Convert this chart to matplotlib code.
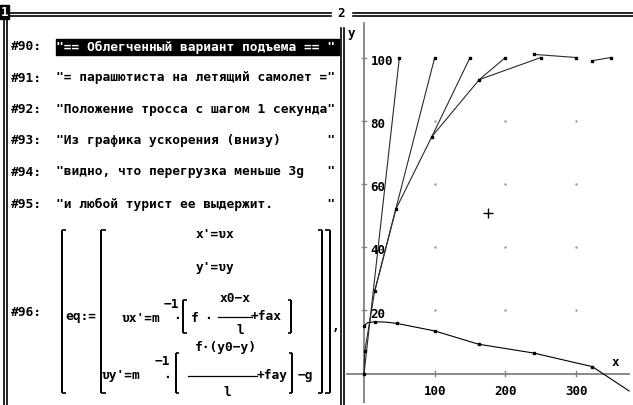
import matplotlib
matplotlib.use("Agg")
import matplotlib.pyplot as plt
from matplotlib.patches import Rectangle

# ---- data ----
# plane positions (top of the rope) each second
plane_x = [50, 100, 150, 200, 250, 300, 350]
plane_y = [100, 100, 100, 100, 100, 100, 100]

# rope segments between parachutist and plane
rope_1_x = [0, 50]
rope_1_y = [0, 100]
rope_2_x = [0, 1, 15, 100]
rope_2_y = [0, 7, 26, 100]
rope_3_x = [15, 45, 96, 150]
rope_3_y = [26, 52, 75, 100]
rope_4_x = [96, 163, 200]
rope_4_y = [75, 93, 100]
rope_5_x = [163, 250]
rope_5_y = [93, 100]
rope_6_x = [240, 300]
rope_6_y = [101, 100]
rope_7_x = [323, 349]
rope_7_y = [99, 100]
ropes = [(rope_1_x, rope_1_y), (rope_2_x, rope_2_y), (rope_3_x, rope_3_y),
         (rope_4_x, rope_4_y), (rope_5_x, rope_5_y), (rope_6_x, rope_6_y),
         (rope_7_x, rope_7_y)]

# parachutist positions
para_x = [0, 1, 15, 45, 96, 163, 240, 323]
para_y = [0, 7, 26, 52, 75, 93, 101, 99]

# acceleration curve (bottom)
accel_x = [0, 5, 15, 30, 46, 100, 162, 240, 323, 375]
accel_y = [15.1, 16.1, 16.4, 16.3, 15.9, 13.5, 9.3, 6.5, 2.2, -5.5]
accel_pts_x = [0, 15, 46, 100, 162, 240, 323]
accel_pts_y = [15.1, 16.4, 15.9, 13.5, 9.3, 6.5, 2.2]

cross_x, cross_y = 176, 50.7

x_ticks = [100, 200, 300]
y_ticks = [20, 40, 60, 80, 100]

notes = [
    ("#90:", "== Облегченный вариант подъема == "),
    ("#91:", "= парашютиста на летящий самолет ="),
    ("#92:", "Положение тросса с шагом 1 секунда"),
    ("#93:", "Из графика ускорения (внизу)"),
    ("#94:", "видно, что перегрузка меньше 3g"),
    ("#95:", "и любой турист ее выдержит."),
]
note_y = [47, 78, 109.5, 140.5, 172, 204]

MONO = "DejaVu Sans Mono"
FS = 9.3

fig = plt.figure(figsize=(6.33, 4.05), dpi=100)
fig.patch.set_facecolor("white")

# ---- plot window (right) ----
ax = fig.add_axes([346 / 633, 2 / 405, 284 / 633, 385 / 405])
ax.set_xlim(-25.5, 376.2)
ax.set_ylim(-9.3, 112.5)
ax.axis("off")

axis_col = "#808080"
ax.axhline(0, color=axis_col, lw=1.3, zorder=1)
ax.plot([0, 0], [-9.3, 110.8], color=axis_col, lw=1.3, zorder=1)
for t in x_ticks:
    ax.plot([t, t], [-0.8, 0.8], color=axis_col, lw=1, zorder=1)
    ax.text(t, -5.8, str(t), family=MONO, weight="bold", fontsize=9,
            ha="center", va="center")
for t in y_ticks:
    ax.plot([-2.5, 2.5], [t, t], color=axis_col, lw=1, zorder=1)
    ax.text(9.5, t - 1.2, str(t), family=MONO, weight="bold", fontsize=9,
            ha="left", va="center")
ax.text(-17.4, 107.7, "y", family=MONO, weight="bold", fontsize=9,
        ha="center", va="center")
ax.text(356, 3.6, "x", family=MONO, weight="bold", fontsize=9,
        ha="center", va="center")

# grid dots
for gx in x_ticks:
    for gy in y_ticks:
        ax.plot(gx, gy, marker="s", ms=0.7, color="#999999", zorder=1)

for rx, ry in ropes:
    ax.plot(rx, ry, color="#2a2a2a", lw=0.8, zorder=2)
ax.plot(plane_x, plane_y, ls="none", marker="s", ms=1.9, color="black", zorder=3)
ax.plot(para_x, para_y, ls="none", marker="s", ms=1.9, color="black", zorder=3)

ax.plot(accel_x, accel_y, color="black", lw=0.8, zorder=2)
ax.plot(accel_pts_x, accel_pts_y, ls="none", marker="s", ms=1.9,
        color="black", zorder=3)

ax.plot(cross_x, cross_y, marker="+", ms=7, mew=1, color="black")

# ---- window frame + algebra window (left), in pixel coords ----
ov = fig.add_axes([0, 0, 1, 1])
ov.set_xlim(0, 633)
ov.set_ylim(405, 0)
ov.axis("off")

def hline(x0, x1, y, lw=1.2):
    ov.plot([x0, x1], [y, y], color="black", lw=lw, solid_capstyle="butt")

def vline(x, y0, y1, lw=1.2):
    ov.plot([x, x], [y0, y1], color="black", lw=lw, solid_capstyle="butt")

hline(8, 337, 13)
hline(8, 337, 16)
hline(346, 633, 13)
hline(346, 633, 16)
vline(4, 19, 405)
vline(7, 19, 405)
vline(341, 19, 405)
vline(344, 19, 405)
ov.add_patch(Rectangle((0, 5), 8.5, 14, color="black"))
ov.text(4.2, 12.5, "1", family=MONO, weight="bold", fontsize=9,
        color="white", ha="center", va="center")
ov.text(341.5, 13.5, "2", family=MONO, weight="bold", fontsize=9,
        ha="center", va="center", backgroundcolor="white")

for i, (lab, s) in enumerate(notes):
    y = note_y[i]
    ov.text(11, y, lab, family=MONO, weight="bold", fontsize=FS,
            ha="left", va="center")
    txt = '"' + s.ljust(34) + '"'
    col = "black"
    if i == 0:
        ov.add_patch(Rectangle((56, 39), 282.5, 15.5, color="black"))
        col = "white"
    ov.text(56.5, y, txt, family=MONO, weight="bold", fontsize=FS,
            ha="left", va="center", color=col)

# ---- #96 equation ----
def text(x, y, s, ha="center", fs=FS):
    ov.text(x, y, s, family=MONO, weight="bold", fontsize=fs,
            ha=ha, va="center")

def lbrack(x, y0, y1, w=4.5):
    vline(x, y0, y1, lw=1.4)
    hline(x, x + w, y0, lw=1.2)
    hline(x, x + w, y1, lw=1.2)

def rbrack(x, y0, y1, w=4.5):
    vline(x, y0, y1, lw=1.4)
    hline(x - w, x, y0, lw=1.2)
    hline(x - w, x, y1, lw=1.2)

text(11, 313, "#96:", ha="left")
lbrack(61.5, 230, 393)
rbrack(329.5, 230, 393)
text(81, 316.5, "eq:=")
lbrack(101, 230, 393)
rbrack(322, 230, 393)
ov.text(336, 326, ",", family=MONO, weight="bold", fontsize=FS,
        ha="center", va="center")

text(215, 235, "x'=υx")
text(215, 268, "y'=υy")

# vx' row
text(160, 318, "υx'=m", ha="right")
text(171, 304, "−1")
text(176.5, 318.5, "·")
lbrack(183, 300, 333, w=3.5)
text(195, 318, "f")
text(208, 318.5, "·")
ov.plot([218, 252], [316.5, 316.5], color="black", lw=0.9)
text(235, 298, "x0−x")
text(240, 331, "l")
text(266, 317, "+fax")
rbrack(291, 300, 333, w=3.5)

# vy' row
text(140, 376, "υy'=m", ha="right")
text(162, 361.5, "−1")
text(167.5, 377, "·")
lbrack(175.5, 353, 393, w=3.5)
ov.plot([188, 257], [375.5, 375.5], color="black", lw=0.9)
text(226, 347, "f·(y0−y)")
text(227, 392, "l")
text(272, 375, "+fay")
rbrack(292, 353, 393, w=3.5)
text(305, 375, "−g")

fig.savefig("out.png", dpi=100, facecolor="white")
